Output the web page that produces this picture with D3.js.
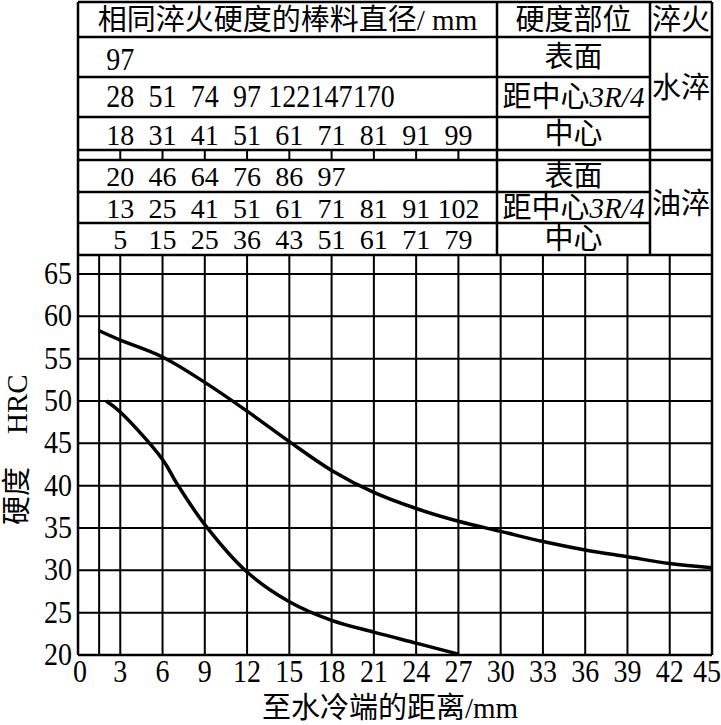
<!DOCTYPE html>
<html><head><meta charset="utf-8">
<script src="https://cdn.jsdelivr.net/npm/d3@7"></script>
<style>body{margin:0;background:#fff}svg{display:block}</style>
</head><body>
<script>
// ---------- data ----------
const xTicks = [0,3,6,9,12,15,18,21,24,27,30,33,36,39,42,45];
const xGrid = [1.5,3,6,9,12,15,18,21,24,27,30,33,36,39,42,45];
const yTicks = [20,25,30,35,40,45,50,55,60,65];
const tableDist = [3,6,9,12,15,18,21,24,27];
const waterSurface = [97];
const water34 = [28,51,74,97,122,147,170];
const waterCenter = [18,31,41,51,61,71,81,91,99];
const oilSurface = [20,46,64,76,86,97];
const oil34 = [13,25,41,51,61,71,81,91,102];
const oilCenter = [5,15,25,36,43,51,61,71,79];
const upperX = [1.5,3,6,9,12,15,18,21,24,27,30,33,36,39,42,45];
const upperY = [58.3,57.2,55.2,52.2,48.8,45.2,41.8,39.2,37.3,35.8,34.6,33.4,32.4,31.6,30.8,30.3];
const lowerX = [2,3,6,7,9,12,15,18,21,24,27];
const lowerY = [50.0,48.7,43.1,40.3,35.4,29.8,26.3,24.1,22.7,21.4,20.1];
const headerCol1 = "相同淬火硬度的棒料直径/ mm";
const headerCol2 = "硬度部位";
const headerCol3 = "淬火";
const positions = ["表面","距中心","中心"];
const quench = ["水淬","油淬"];
const xTitle = "至水冷端的距离/mm";

// ---------- layout ----------
const W = 721, H = 725;
const L = 78, R = 712, plotTop = 255, plotBot = 655;
const col2 = 497, col3 = 650, tableTop = 2;
const rowsW = [[37,77],[77,117],[117,150]];
const rowsO = [[160,192],[192,223],[223,255]];
const sepRow = [150,160];
const FONT = "'Liberation Serif','Times New Roman','Noto Sans CJK SC',serif";

const svg = d3.select("body").append("svg").attr("width",W).attr("height",H);
const x = d3.scaleLinear().domain([0,45]).range([L,R]);
const y = d3.scaleLinear().domain([20,65]).range([plotBot,274]);

// ---------- plot grid ----------
const g = svg.append("g");
g.selectAll("line.vg").data(xGrid).join("line")
  .attr("x1",d=>x(d)).attr("x2",d=>x(d)).attr("y1",plotTop).attr("y2",plotBot)
  .attr("stroke","#000").attr("stroke-width",2);
g.selectAll("line.hg").data(yTicks).join("line")
  .attr("x1",L).attr("x2",R).attr("y1",d=>y(d)).attr("y2",d=>y(d))
  .attr("stroke","#000").attr("stroke-width",2);

// curves
const line = d3.line().x(d=>x(d[0])).y(d=>y(d[1])).curve(d3.curveCatmullRom.alpha(0.5));
g.append("path").datum(upperX.map((v,i)=>[v,upperY[i]])).attr("d",line)
  .attr("fill","none").attr("stroke","#000").attr("stroke-width",3.5);
g.append("path").datum(lowerX.map((v,i)=>[v,lowerY[i]])).attr("d",line)
  .attr("fill","none").attr("stroke","#000").attr("stroke-width",3.5);

// axes labels (slightly stretched vertically like the scanned original)
g.selectAll("text.yt").data(yTicks).join("text")
  .attr("transform",d=>`translate(${L-6},${y(d)+10}) scale(1,1.1)`).attr("text-anchor","end")
  .attr("font-family",FONT).attr("font-size",28).text(d=>d);
g.selectAll("text.xt").data(xTicks).join("text")
  .attr("transform",d=>`translate(${d===45?W:x(d)+(d===0?2:0)},682) scale(1,1.1)`)
  .attr("text-anchor",d=>d===45?"end":"middle")
  .attr("font-family",FONT).attr("font-size",28).text(d=>d);

svg.append("text").attr("x",390).attr("y",718).attr("text-anchor","middle")
  .attr("font-family",FONT).attr("font-size",29).text(xTitle);
const yt = svg.append("text").attr("transform","translate(27,525) rotate(-90)")
  .attr("font-family",FONT).attr("font-size",29);
yt.append("tspan").text("硬度");
yt.append("tspan").attr("dx",33).text("HRC");

// ---------- table lines ----------
const T = svg.append("g").attr("stroke","#000").attr("stroke-width",2.5);
const hl = [[tableTop,L,R],[37,L,R],[77,L,col3],[117,L,col3],[150,L,R],[160,L,R],
            [192,L,col3],[223,L,col3],[plotTop,L,R],[plotBot,L,R]];
hl.forEach(([yy,a,b])=>T.append("line").attr("x1",a).attr("x2",b).attr("y1",yy).attr("y2",yy));
[[L,tableTop,plotBot],[R,tableTop,plotBot],[col2,tableTop,plotTop],[col3,tableTop,plotTop]]
  .forEach(([xx,a,b])=>T.append("line").attr("x1",xx).attr("x2",xx).attr("y1",a).attr("y2",b));
T.selectAll("line.sep").data(tableDist).join("line")
  .attr("x1",d=>x(d)).attr("x2",d=>x(d)).attr("y1",sepRow[0]).attr("y2",sepRow[1])
  .attr("stroke-width",2);

// ---------- table text ----------
const txt = svg.append("g").attr("font-family",FONT);
function cy(r){return (r[0]+r[1])/2 + 10;}
txt.append("text").attr("x",(L+col2)/2).attr("y",(tableTop+37)/2+10).attr("text-anchor","middle")
  .attr("font-size",29).text(headerCol1);
txt.append("text").attr("x",(col2+col3)/2).attr("y",(tableTop+37)/2+10).attr("text-anchor","middle")
  .attr("font-size",29).text(headerCol2);
txt.append("text").attr("x",(col3+R)/2).attr("y",(tableTop+37)/2+10).attr("text-anchor","middle")
  .attr("font-size",29).text(headerCol3);

const rowsData = [[waterSurface,rowsW[0],3,1.1],[water34,rowsW[1],0,1.1],[waterCenter,rowsW[2],1,1.08],
                  [oilSurface,rowsO[0],0,1],[oil34,rowsO[1],0,1],[oilCenter,rowsO[2],0,1]];
rowsData.forEach(([vals,r,off,sy])=>{
  txt.selectAll(null).data(vals).join("text")
    .attr("transform",(d,i)=>`translate(${x(tableDist[i])},${cy(r)+off}) scale(1,${sy})`)
    .attr("text-anchor","middle")
    .attr("font-size",28).text(d=>d);
});
[rowsW,rowsO].forEach(rows=>{
  rows.forEach((r,i)=>{
    const t = txt.append("text").attr("x",(col2+col3)/2).attr("y",cy(r))
      .attr("text-anchor","middle").attr("font-size",29);
    t.append("tspan").text(positions[i]);
    if(i===1){
      t.append("tspan").attr("font-style","italic").text("3R/4");
    }
  });
});
txt.append("text").attr("x",(col3+R)/2).attr("y",(37+150)/2+4).attr("text-anchor","middle")
  .attr("font-size",29).text(quench[0]);
txt.append("text").attr("x",(col3+R)/2).attr("y",(160+255)/2+6).attr("text-anchor","middle")
  .attr("font-size",29).text(quench[1]);
</script>
</body></html>
